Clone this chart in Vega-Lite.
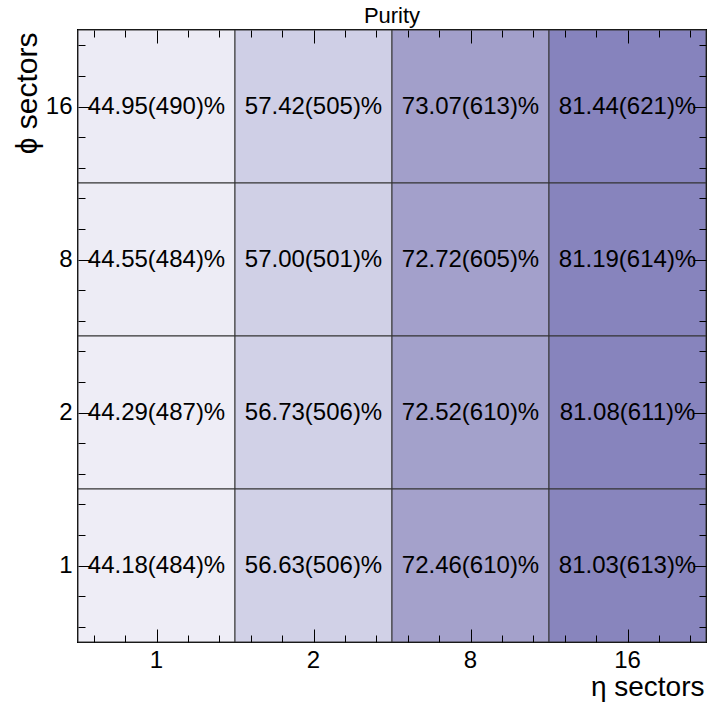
{
  "$schema": "https://vega.github.io/schema/vega-lite/v6.json",
  "width": 628,
  "height": 612,
  "autosize": {"type": "none"},
  "padding": {"left": 78, "top": 30, "right": 3, "bottom": 62},
  "background": "white",
  "config": {
    "font": "Liberation Sans",
    "view": {"stroke": "#000000", "strokeWidth": 2},
    "axis": {"grid": false}
  },
  "title": {"text": "Purity", "fontSize": 22, "fontWeight": "normal", "color": "#000000", "anchor": "middle", "baseline": "alphabetic", "offset": -15},
  "data": {
    "values": [
      {"eta": "1", "phi": "16", "purity": 44.95, "n": 490, "label": "44.95(490)%"},
      {"eta": "2", "phi": "16", "purity": 57.42, "n": 505, "label": "57.42(505)%"},
      {"eta": "8", "phi": "16", "purity": 73.07, "n": 613, "label": "73.07(613)%"},
      {"eta": "16", "phi": "16", "purity": 81.44, "n": 621, "label": "81.44(621)%"},
      {"eta": "1", "phi": "8", "purity": 44.55, "n": 484, "label": "44.55(484)%"},
      {"eta": "2", "phi": "8", "purity": 57.00, "n": 501, "label": "57.00(501)%"},
      {"eta": "8", "phi": "8", "purity": 72.72, "n": 605, "label": "72.72(605)%"},
      {"eta": "16", "phi": "8", "purity": 81.19, "n": 614, "label": "81.19(614)%"},
      {"eta": "1", "phi": "2", "purity": 44.29, "n": 487, "label": "44.29(487)%"},
      {"eta": "2", "phi": "2", "purity": 56.73, "n": 506, "label": "56.73(506)%"},
      {"eta": "8", "phi": "2", "purity": 72.52, "n": 610, "label": "72.52(610)%"},
      {"eta": "16", "phi": "2", "purity": 81.08, "n": 611, "label": "81.08(611)%"},
      {"eta": "1", "phi": "1", "purity": 44.18, "n": 484, "label": "44.18(484)%"},
      {"eta": "2", "phi": "1", "purity": 56.63, "n": 506, "label": "56.63(506)%"},
      {"eta": "8", "phi": "1", "purity": 72.46, "n": 610, "label": "72.46(610)%"},
      {"eta": "16", "phi": "1", "purity": 81.03, "n": 613, "label": "81.03(613)%"}
    ]
  },
  "layer": [
    {
      "mark": {"type": "rect", "stroke": "#333333", "strokeWidth": 1},
      "encoding": {
        "x": {
          "field": "eta", "type": "ordinal", "sort": ["1", "2", "8", "16"],
          "scale": {"paddingInner": 0, "paddingOuter": 0},
          "axis": {
            "orient": "bottom", "ticks": false, "domain": false, "labelAngle": 0,
            "labelFontSize": 24, "labelColor": "#000000", "labelPadding": 25, "labelBaseline": "alphabetic",
            "title": "η sectors", "titleFontSize": 28, "titleFontWeight": "normal", "titleColor": "#000000",
            "titleAnchor": "end", "titleAlign": "right", "titleBaseline": "alphabetic", "titleX": 626, "titleY": 53
          }
        },
        "y": {
          "field": "phi", "type": "ordinal", "sort": ["16", "8", "2", "1"],
          "scale": {"paddingInner": 0, "paddingOuter": 0},
          "axis": {
            "orient": "left", "ticks": false, "domain": false,
            "labelFontSize": 24, "labelColor": "#000000", "labelPadding": 6,
            "title": "ϕ sectors", "titleFontSize": 30, "titleFontWeight": "normal", "titleColor": "#000000",
            "titleAnchor": "end", "titleAlign": "right", "titleBaseline": "alphabetic", "titleAngle": -90, "titleX": -42, "titleY": 2
          }
        },
        "color": {
          "field": "purity", "type": "quantitative", "legend": null,
          "scale": {"domain": [44.1, 56.7, 72.7, 81.2], "range": ["#eeedf6", "#d1d1e7", "#a3a0cb", "#8784bd"]}
        }
      }
    },
    {
      "mark": {"type": "text", "fontSize": 24, "color": "#000000", "align": "center", "baseline": "middle"},
      "encoding": {
        "x": {"field": "eta", "type": "ordinal", "sort": ["1", "2", "8", "16"], "scale": {"paddingInner": 0, "paddingOuter": 0}, "axis": null},
        "y": {"field": "phi", "type": "ordinal", "sort": ["16", "8", "2", "1"], "scale": {"paddingInner": 0, "paddingOuter": 0}, "axis": null},
        "text": {"field": "label"}
      }
    },
    {
      "mark": {"type": "point", "opacity": 0},
      "encoding": {
        "x": {
          "datum": 2, "type": "quantitative", "scale": {"domain": [0, 4], "nice": false, "zero": false},
          "axis": {"orient": "bottom", "zindex": 1, "values": [0.1, 0.3, 0.7, 0.9, 1.1, 1.3, 1.7, 1.9, 2.1, 2.3, 2.7, 2.9, 3.1, 3.3, 3.7, 3.9],
            "labels": false, "domain": false, "title": null, "tickColor": "#000000", "tickWidth": 1, "tickSize": -7}
        },
        "y": {
          "datum": 2, "type": "quantitative", "scale": {"domain": [0, 4], "nice": false, "zero": false},
          "axis": {"orient": "left", "zindex": 1, "values": [0.1, 0.3, 0.7, 0.9, 1.1, 1.3, 1.7, 1.9, 2.1, 2.3, 2.7, 2.9, 3.1, 3.3, 3.7, 3.9],
            "labels": false, "domain": false, "title": null, "tickColor": "#000000", "tickWidth": 1, "tickSize": -7}
        }
      }
    },
    {
      "mark": {"type": "point", "opacity": 0},
      "encoding": {
        "x": {
          "datum": 2, "type": "quantitative", "scale": {"domain": [0, 4], "nice": false, "zero": false},
          "axis": {"orient": "top", "zindex": 1, "values": [0.1, 0.3, 0.7, 0.9, 1.1, 1.3, 1.7, 1.9, 2.1, 2.3, 2.7, 2.9, 3.1, 3.3, 3.7, 3.9],
            "labels": false, "domain": false, "title": null, "tickColor": "#000000", "tickWidth": 1, "tickSize": -7}
        },
        "y": {
          "datum": 2, "type": "quantitative", "scale": {"domain": [0, 4], "nice": false, "zero": false},
          "axis": {"orient": "right", "zindex": 1, "values": [0.1, 0.3, 0.7, 0.9, 1.1, 1.3, 1.7, 1.9, 2.1, 2.3, 2.7, 2.9, 3.1, 3.3, 3.7, 3.9],
            "labels": false, "domain": false, "title": null, "tickColor": "#000000", "tickWidth": 1, "tickSize": -7}
        }
      }
    },
    {
      "mark": {"type": "point", "opacity": 0},
      "encoding": {
        "x": {
          "datum": 2, "type": "quantitative", "scale": {"domain": [0, 4], "nice": false, "zero": false},
          "axis": {"orient": "bottom", "zindex": 1, "values": [0.5, 1.5, 2.5, 3.5],
            "labels": false, "domain": false, "title": null, "tickColor": "#000000", "tickWidth": 1, "tickSize": -13}
        },
        "y": {
          "datum": 2, "type": "quantitative", "scale": {"domain": [0, 4], "nice": false, "zero": false},
          "axis": {"orient": "left", "zindex": 1, "values": [0.5, 1.5, 2.5, 3.5],
            "labels": false, "domain": false, "title": null, "tickColor": "#000000", "tickWidth": 1, "tickSize": -13}
        }
      }
    },
    {
      "mark": {"type": "point", "opacity": 0},
      "encoding": {
        "x": {
          "datum": 2, "type": "quantitative", "scale": {"domain": [0, 4], "nice": false, "zero": false},
          "axis": {"orient": "top", "zindex": 1, "values": [0.5, 1.5, 2.5, 3.5],
            "labels": false, "domain": false, "title": null, "tickColor": "#000000", "tickWidth": 1, "tickSize": -13}
        },
        "y": {
          "datum": 2, "type": "quantitative", "scale": {"domain": [0, 4], "nice": false, "zero": false},
          "axis": {"orient": "right", "zindex": 1, "values": [0.5, 1.5, 2.5, 3.5],
            "labels": false, "domain": false, "title": null, "tickColor": "#000000", "tickWidth": 1, "tickSize": -13}
        }
      }
    }
  ],
  "resolve": {
    "scale": {"x": "independent", "y": "independent"},
    "axis": {"x": "independent", "y": "independent"}
  }
}
